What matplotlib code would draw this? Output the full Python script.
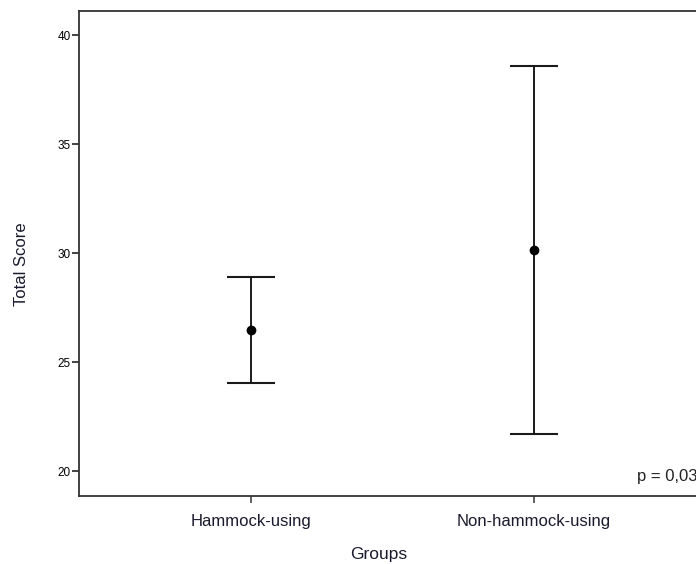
import matplotlib.pyplot as plt

# group means with 95% CI bounds
groups = ['Hammock-using', 'Non-hammock-using']
means = [26.47, 30.14]
lower = [24.05, 21.70]
upper = [28.90, 38.58]

plt.rcParams['font.family'] = ['Liberation Sans', 'DejaVu Sans']

fig = plt.figure(figsize=(6.96, 5.64), dpi=100)
# axes runs a little past the right edge, like the cropped original
ax = fig.add_axes([79 / 696, 1 - 496 / 564, (706 - 79) / 696, (496 - 11) / 564])

x = [1, 2]
yerr = [[m - lo for m, lo in zip(means, lower)], [hi - m for m, hi in zip(means, upper)]]
ax.errorbar(x, means, yerr=yerr, fmt='o', color='black', ms=6,
            ecolor='#1a1a1a', elinewidth=1.4, capsize=17, capthick=1.5)

ax.set_xlim(1 - 172 / 283, 2 + 172 / 283)
ax.set_ylim(20 - 25 / 21.8, 40 + 24 / 21.8)
ax.set_yticks([20, 25, 30, 35, 40])
ax.set_xticks(x)
ax.set_xticklabels(groups, fontsize=12, color='#1a1a2e')
ax.tick_params(axis='y', labelsize=8.5, length=5, width=1.2, color='#222222', pad=1)
ax.tick_params(axis='x', length=5, width=1.2, color='#444444', pad=8)

for side in ['left', 'bottom', 'top']:
    ax.spines[side].set_linewidth(1.3)
    ax.spines[side].set_color('#333333')
ax.spines['right'].set_visible(False)

ax.set_ylabel('Total Score', fontsize=12, color='#1a1a2e', va='center', ha='center')
ax.yaxis.set_label_coords((22 - 79) / 627, (496 - 264) / 485)
ax.set_xlabel('Groups', fontsize=12.5, color='#1a1a2e', va='center', ha='center')
ax.xaxis.set_label_coords((379 - 79) / 627, (496 - 555) / 485)

ax.text(637 / 696, 1 - 477 / 564, 'p = 0,03', transform=fig.transFigure,
        fontsize=12, color='#222222', va='center', ha='left')

plt.savefig('out.png', dpi=100)
